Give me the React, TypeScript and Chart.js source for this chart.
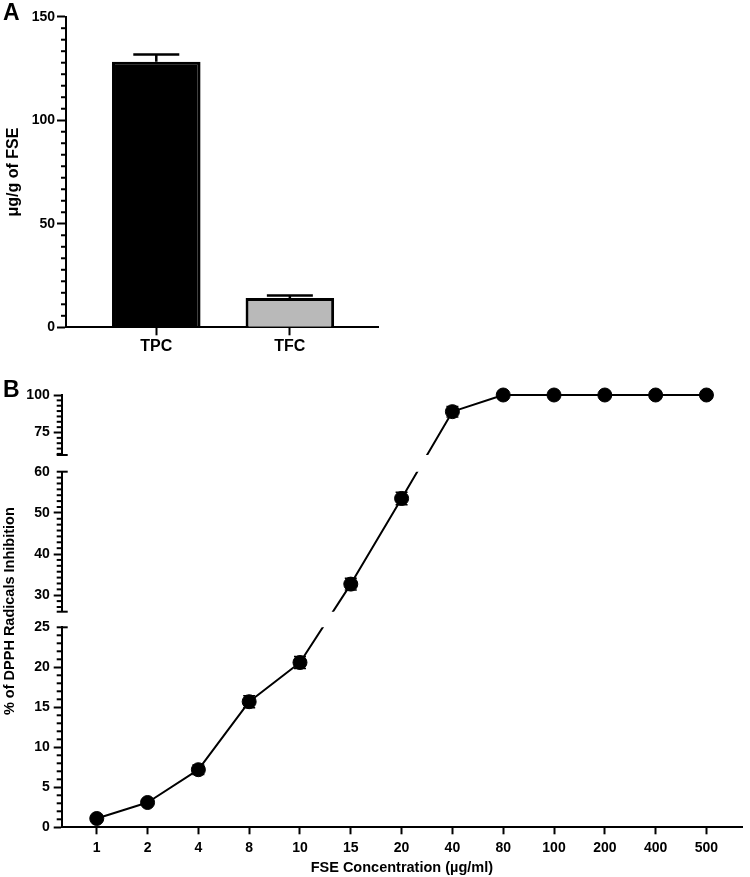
import React, { useEffect, useRef } from 'react';
import { Chart, registerables } from 'chart.js';

Chart.register(...registerables);
const FONT = "'Liberation Sans', Arial, Helvetica, sans-serif";
Chart.defaults.font.family = FONT;
Chart.defaults.color = '#000';

// ---------- Panel A data ----------
const CATEGORIES_A = ['TPC', 'TFC'];
const VALUES_A = [128.3, 14.2];
const SD_A = [3.4, 1.1];
const BAR_COLORS_A = ['#000000', '#b9b9b9'];
const MAJOR_TICKS_A = [0, 50, 100, 150];
const MINOR_STEP_A = 50 / 9;
const Y_TITLE_A = 'μg/g of FSE';

// ---------- Panel B data ----------
const CONCENTRATIONS_B = ['1', '2', '4', '8', '10', '15', '20', '40', '80', '100', '200', '400', '500'];
const INHIBITION_B = [1.1, 3.1, 7.2, 15.7, 20.6, 32.7, 53.5, 88.9, 100, 100, 100, 100, 100];
const SD_B = [0.3, 0.3, 0.6, 0.75, 0.75, 1.4, 1.5, 3.5, 0, 0, 0, 0, 0];
const SEGMENT_IDS_B = ['yTop', 'yMid', 'yBot'];
const SEGMENT_MIN_B = [60, 26, 0];
const SEGMENT_MAX_B = [100, 60, 25];
const MAJOR_TICKS_B = [[75, 100], [30, 40, 50, 60], [0, 5, 10, 15, 20, 25]];
const MINOR_STEP_B = [25 / 7, 10 / 7, 1];
const X_TITLE_B = 'FSE Concentration (µg/ml)';
const Y_TITLE_B = '% of DPPH Radicals Inhibition';

function segmentOf(v: number) {
  for (let k = 0; k < SEGMENT_IDS_B.length; k++) {
    if (v >= SEGMENT_MIN_B[k] && v <= SEGMENT_MAX_B[k]) return k;
  }
  return SEGMENT_IDS_B.length - 1;
}

function drawMinor(ctx: CanvasRenderingContext2D, scale: any, anchor: number, step: number, min: number, max: number, majors: number[], x: number, len: number) {
  const eps = 1e-6;
  for (let dir = -1; dir <= 1; dir += 2) {
    for (let k = dir === -1 ? 0 : 1; ; k++) {
      const v = anchor + dir * k * step;
      if (v < min - eps || v > max + eps) break;
      if (majors.some((m) => Math.abs(m - v) < 1e-3)) continue;
      const y = scale.getPixelForValue(v);
      ctx.beginPath();
      ctx.moveTo(x - len, y);
      ctx.lineTo(x, y);
      ctx.stroke();
    }
  }
}

const pluginsA = [
  {
    id: 'errA',
    afterDatasetsDraw(chart: any) {
      const { ctx } = chart;
      const xs = chart.scales.x;
      const ys = chart.scales.y;
      ctx.save();
      ctx.strokeStyle = '#000';
      ctx.lineWidth = 2.5;
      VALUES_A.forEach((v, i) => {
        const x = xs.getPixelForValue(i);
        const y0 = ys.getPixelForValue(v);
        const y1 = ys.getPixelForValue(v + SD_A[i]);
        ctx.beginPath();
        ctx.moveTo(x, y0);
        ctx.lineTo(x, y1);
        ctx.moveTo(x - 23, y1);
        ctx.lineTo(x + 23, y1);
        ctx.stroke();
      });
      ctx.restore();
    },
  },
  {
    id: 'minorA',
    afterDraw(chart: any) {
      const { ctx, chartArea } = chart;
      const ys = chart.scales.y;
      ctx.save();
      ctx.strokeStyle = '#000';
      ctx.lineWidth = 2;
      drawMinor(ctx, ys, 0, MINOR_STEP_A, ys.min, ys.max, MAJOR_TICKS_A, chartArea.left, 5);
      ctx.restore();
    },
  },
];

const pluginsB = [
  {
    id: 'connectB',
    beforeDatasetsDraw(chart: any) {
      const { ctx, chartArea } = chart;
      const xs = chart.scales.x;
      ctx.save();
      // error bars
      ctx.strokeStyle = '#000';
      ctx.lineWidth = 1.5;
      INHIBITION_B.forEach((v, i) => {
        if (!SD_B[i]) return;
        const s = chart.scales[SEGMENT_IDS_B[segmentOf(v)]];
        const x = xs.getPixelForValue(i);
        const y1 = s.getPixelForValue(v - SD_B[i]);
        const y2 = s.getPixelForValue(v + SD_B[i]);
        ctx.beginPath();
        ctx.moveTo(x, y1);
        ctx.lineTo(x, y2);
        ctx.moveTo(x - 6, y1);
        ctx.lineTo(x + 6, y1);
        ctx.moveTo(x - 6, y2);
        ctx.lineTo(x + 6, y2);
        ctx.stroke();
      });
      // connecting line, hidden in the axis breaks
      ctx.beginPath();
      SEGMENT_IDS_B.forEach((id, k) => {
        const s = chart.scales[id];
        const top = k === 0 ? 0 : s.top;
        const bottom = k === SEGMENT_IDS_B.length - 1 ? chart.height : s.bottom;
        ctx.rect(chartArea.left, top, chart.width - chartArea.left, bottom - top);
      });
      ctx.clip();
      ctx.beginPath();
      INHIBITION_B.forEach((v, i) => {
        const s = chart.scales[SEGMENT_IDS_B[segmentOf(v)]];
        const x = xs.getPixelForValue(i);
        const y = s.getPixelForValue(v);
        if (i === 0) ctx.moveTo(x, y);
        else ctx.lineTo(x, y);
      });
      ctx.lineWidth = 2;
      ctx.lineJoin = 'round';
      ctx.stroke();
      ctx.restore();
    },
  },
  {
    id: 'axisDecorB',
    afterDraw(chart: any) {
      const { ctx, chartArea } = chart;
      const ax = chartArea.left;
      ctx.save();
      ctx.strokeStyle = '#000';
      ctx.lineWidth = 2;
      SEGMENT_IDS_B.forEach((id, k) => {
        const s = chart.scales[id];
        const majors = MAJOR_TICKS_B[k];
        drawMinor(ctx, s, majors[majors.length - 1], MINOR_STEP_B[k], SEGMENT_MIN_B[k], SEGMENT_MAX_B[k], majors, ax, 5);
        // break caps
        if (k > 0) {
          ctx.beginPath();
          ctx.moveTo(ax - 5, s.top);
          ctx.lineTo(ax + 6, s.top);
          ctx.stroke();
        }
        if (k < SEGMENT_IDS_B.length - 1) {
          ctx.beginPath();
          ctx.moveTo(ax - 5, s.bottom);
          ctx.lineTo(ax + 6, s.bottom);
          ctx.stroke();
        }
      });
      // y title
      const top = chart.scales[SEGMENT_IDS_B[0]].top;
      const bottom = chart.scales[SEGMENT_IDS_B[SEGMENT_IDS_B.length - 1]].bottom;
      ctx.translate(10, (top + bottom) / 2);
      ctx.rotate(-Math.PI / 2);
      ctx.font = `bold 14.5px ${FONT}`;
      ctx.fillStyle = '#000';
      ctx.textAlign = 'center';
      ctx.textBaseline = 'middle';
      ctx.fillText(Y_TITLE_B, 0, 0);
      ctx.restore();
    },
  },
];

function configA(): any {
  return {
    type: 'bar',
    data: {
      datasets: [
        {
          data: VALUES_A.map((v, i) => ({ x: i, y: v })),
          backgroundColor: BAR_COLORS_A,
          borderColor: '#000',
          borderWidth: 3,
          borderSkipped: 'bottom',
          barPercentage: 0.663,
          categoryPercentage: 1,
        },
      ],
    },
    options: {
      animation: false,
      responsive: false,
      maintainAspectRatio: false,
      layout: { padding: { top: 16.7, right: 22, left: 0, bottom: 0 } },
      plugins: { legend: { display: false }, tooltip: { enabled: false } },
      scales: {
        x: {
          type: 'linear',
          offset: false,
          min: -0.676,
          max: 1.66,
          afterBuildTicks: (s: any) => {
            s.ticks = CATEGORIES_A.map((_, i) => ({ value: i }));
          },
          ticks: {
            callback: (v: any) => CATEGORIES_A[v],
            font: { size: 16, weight: 'bold' },
            color: '#000',
            padding: 2,
            autoSkip: false,
            maxRotation: 0,
          },
          grid: { offset: false, drawOnChartArea: false, tickLength: 8, tickWidth: 2, tickColor: '#000' },
          border: { color: '#000', width: 2 },
          afterFit: (s: any) => {
            s.height = 32.7;
          },
        },
        y: {
          type: 'linear',
          min: 0,
          max: 150,
          afterBuildTicks: (s: any) => {
            s.ticks = MAJOR_TICKS_A.map((v) => ({ value: v }));
          },
          ticks: { font: { size: 14, weight: 'bold' }, color: '#000', padding: 2 },
          grid: { drawOnChartArea: false, tickLength: 9, tickWidth: 2, tickColor: '#000' },
          border: { color: '#000', width: 2 },
          title: {
            display: true,
            text: Y_TITLE_A,
            font: { size: 16, weight: 'bold' },
            color: '#000',
            padding: { top: 4, bottom: 4 },
          },
          afterFit: (s: any) => {
            s.width = 66;
          },
        },
      },
    },
    plugins: pluginsA,
  };
}

function configB(): any {
  const stackWeights = [60, 140, 200];
  const gapWeights = [16.7, 15.6];
  const scales: any = {
    x: {
      type: 'linear',
      offset: false,
      min: -0.69,
      max: 12.7,
      afterBuildTicks: (s: any) => {
        s.ticks = CONCENTRATIONS_B.map((_, i) => ({ value: i }));
      },
      ticks: {
        callback: (v: any) => CONCENTRATIONS_B[v],
        font: { size: 14, weight: 'bold' },
        color: '#000',
        padding: 5,
        autoSkip: false,
        maxRotation: 0,
      },
      grid: { drawOnChartArea: false, tickLength: 7, tickWidth: 2, tickColor: '#000' },
      border: { color: '#000', width: 2 },
      title: {
        display: true,
        text: X_TITLE_B,
        font: { size: 14.5, weight: 'bold' },
        color: '#000',
        padding: { top: 0, bottom: 0 },
      },
      afterFit: (s: any) => {
        s.height = 49.7;
      },
    },
  };
  let w = 10;
  SEGMENT_IDS_B.forEach((id, k) => {
    scales[id] = {
      type: 'linear',
      position: 'left',
      stack: 'y',
      stackWeight: stackWeights[k],
      weight: w--,
      min: SEGMENT_MIN_B[k],
      max: SEGMENT_MAX_B[k],
      afterBuildTicks: (s: any) => {
        s.ticks = MAJOR_TICKS_B[k].map((v) => ({ value: v }));
      },
      ticks: { font: { size: 14, weight: 'bold' }, color: '#000', padding: 4 },
      grid: {
        drawOnChartArea: false,
        tickLength: 8,
        tickWidth: 2,
        tickColor: (c: any) =>
          k > 0 && c.tick && c.tick.value === SEGMENT_MAX_B[k] ? 'rgba(0,0,0,0)' : '#000',
      },
      border: { color: '#000', width: 2 },
      afterFit: (s: any) => {
        s.width = 61.7;
      },
    };
    if (k < gapWeights.length) {
      scales['gap' + k] = {
        type: 'linear',
        position: 'left',
        stack: 'y',
        stackWeight: gapWeights[k],
        weight: w--,
        ticks: { display: false },
        grid: { display: false },
        border: { display: false },
        afterFit: (s: any) => {
          s.width = 61.7;
        },
      };
    }
  });
  return {
    type: 'line',
    data: {
      datasets: SEGMENT_IDS_B.map((id, k) => ({
        yAxisID: id,
        xAxisID: 'x',
        showLine: false,
        clip: false,
        data: INHIBITION_B.map((v, i) => ({ x: i, y: segmentOf(v) === k ? v : null })),
        pointRadius: 7,
        pointBorderWidth: 1,
        pointBackgroundColor: '#000',
        pointBorderColor: '#000',
      })),
    },
    options: {
      animation: false,
      responsive: false,
      maintainAspectRatio: false,
      layout: { padding: { top: 35, right: 3, left: 0, bottom: 0 } },
      plugins: { legend: { display: false }, tooltip: { enabled: false } },
      scales,
    },
    plugins: pluginsB,
  };
}

const letterStyle = (top: number): React.CSSProperties => ({
  position: 'absolute',
  left: 3,
  top,
  font: `bold 23px ${FONT}`,
  lineHeight: '23px',
  color: '#000',
});

export default function App() {
  const refA = useRef<HTMLCanvasElement>(null);
  const refB = useRef<HTMLCanvasElement>(null);
  useEffect(() => {
    const a = new Chart(refA.current as HTMLCanvasElement, configA());
    const b = new Chart(refB.current as HTMLCanvasElement, configB());
    return () => {
      a.destroy();
      b.destroy();
    };
  }, []);
  return (
    <div style={{ position: 'absolute', left: 0, top: 0, width: 750, height: 877, overflow: 'hidden', background: '#fff' }}>
      <canvas ref={refA} width={400} height={360} style={{ position: 'absolute', left: 0, top: 0, width: 400, height: 360 }} />
      <canvas ref={refB} width={750} height={517} style={{ position: 'absolute', left: 0, top: 360, width: 750, height: 517 }} />
      <div style={letterStyle(0.5)}>A</div>
      <div style={letterStyle(378)}>B</div>
    </div>
  );
}
